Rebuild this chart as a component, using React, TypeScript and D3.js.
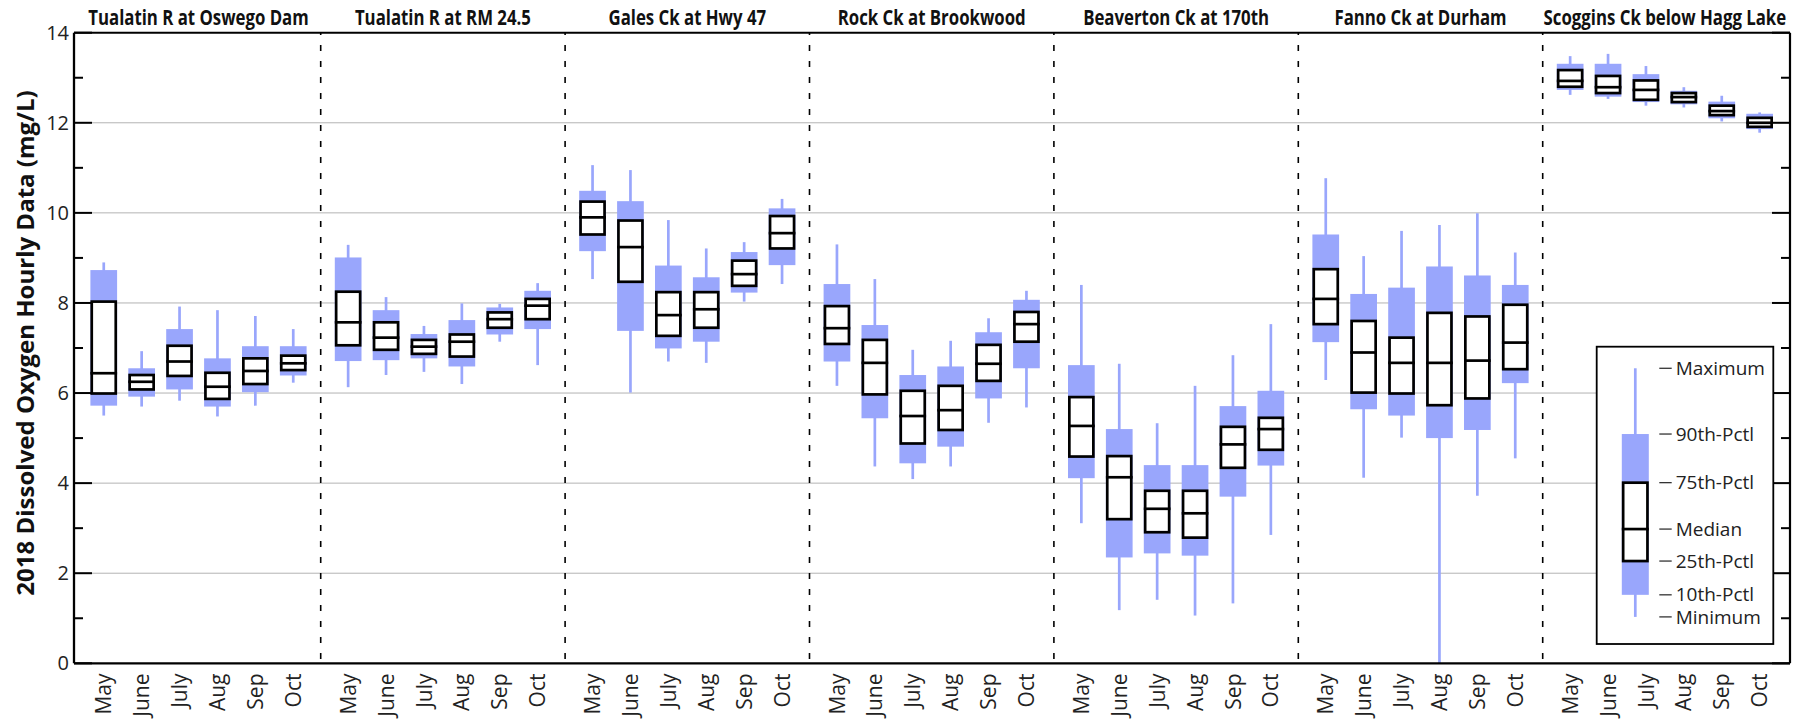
import React from "react";
import * as d3 from "d3";

const sites = [
  "Tualatin R at Oswego Dam",
  "Tualatin R at RM 24.5",
  "Gales Ck at Hwy 47",
  "Rock Ck at Brookwood",
  "Beaverton Ck at 170th",
  "Fanno Ck at Durham",
  "Scoggins Ck below Hagg Lake",
];
const months = ["May", "June", "July", "Aug", "Sep", "Oct"];

// Each row: one site, values May..Oct
const minimum = [
  [5.5, 5.7, 5.83, 5.48, 5.72, 6.23],
  [6.13, 6.4, 6.47, 6.2, 7.14, 6.62],
  [8.53, 6.01, 6.7, 6.67, 8.03, 8.42],
  [6.16, 4.37, 4.09, 4.37, 5.34, 5.68],
  [3.11, 1.18, 1.41, 1.06, 1.33, 2.85],
  [6.29, 4.12, 5.01, 0.0, 3.72, 4.55],
  [12.62, 12.53, 12.38, 12.34, 12.03, 11.78],
];
const pct10 = [
  [5.72, 5.92, 6.08, 5.7, 6.02, 6.39],
  [6.71, 6.73, 6.77, 6.59, 7.3, 7.42],
  [9.15, 7.38, 6.99, 7.14, 8.23, 8.84],
  [6.7, 5.44, 4.44, 4.81, 5.88, 6.55],
  [4.11, 2.35, 2.44, 2.39, 3.7, 4.39],
  [7.13, 5.64, 5.5, 5.0, 5.18, 6.22],
  [12.73, 12.58, 12.46, 12.41, 12.1, 11.86],
];
const pct25 = [
  [5.99, 6.08, 6.38, 5.87, 6.2, 6.51],
  [7.06, 6.96, 6.87, 6.81, 7.45, 7.64],
  [9.52, 8.47, 7.27, 7.45, 8.38, 9.21],
  [7.09, 5.97, 4.88, 5.18, 6.27, 7.14],
  [4.59, 3.2, 2.91, 2.79, 4.34, 4.74],
  [7.53, 6.01, 5.99, 5.73, 5.88, 6.53],
  [12.8, 12.66, 12.51, 12.46, 12.17, 11.91],
];
const median = [
  [6.44, 6.25, 6.7, 6.14, 6.49, 6.66],
  [7.57, 7.23, 7.03, 7.14, 7.64, 7.94],
  [9.9, 9.24, 7.73, 7.86, 8.64, 9.55],
  [7.44, 6.67, 5.49, 5.62, 6.65, 7.53],
  [5.27, 4.13, 3.43, 3.33, 4.86, 5.2],
  [8.09, 6.9, 6.67, 6.67, 6.72, 7.12],
  [12.93, 12.79, 12.73, 12.57, 12.26, 12.0],
];
const pct75 = [
  [8.03, 6.4, 7.05, 6.45, 6.77, 6.83],
  [8.25, 7.57, 7.18, 7.3, 7.79, 8.09],
  [10.25, 9.83, 8.24, 8.24, 8.94, 9.93],
  [7.93, 7.18, 6.05, 6.16, 7.07, 7.8],
  [5.91, 4.6, 3.83, 3.83, 5.25, 5.45],
  [8.75, 7.6, 7.23, 7.78, 7.7, 7.96],
  [13.17, 13.04, 12.94, 12.66, 12.38, 12.11],
];
const pct90 = [
  [8.73, 6.55, 7.42, 6.77, 7.04, 7.04],
  [9.01, 7.84, 7.31, 7.62, 7.9, 8.27],
  [10.49, 10.26, 8.83, 8.57, 9.13, 10.1],
  [8.42, 7.51, 6.4, 6.59, 7.35, 8.07],
  [6.62, 5.2, 4.4, 4.4, 5.71, 6.05],
  [9.52, 8.2, 8.34, 8.81, 8.61, 8.4],
  [13.31, 13.31, 13.08, 12.71, 12.47, 12.2],
];
const maximum = [
  [8.9, 6.93, 7.92, 7.84, 7.71, 7.42],
  [9.29, 8.13, 7.49, 7.99, 7.98, 8.44],
  [11.06, 10.95, 9.84, 9.21, 9.35, 10.31],
  [9.3, 8.53, 6.96, 7.16, 7.66, 8.27],
  [8.4, 6.65, 5.33, 6.16, 6.84, 7.53],
  [10.77, 9.04, 9.6, 9.73, 9.99, 9.12],
  [13.48, 13.53, 13.26, 12.79, 12.6, 12.23],
];

const yTicks = [0, 2, 4, 6, 8, 10, 12, 14];
const yMinorTicks = [1, 3, 5, 7, 9, 11, 13];
const gridValues = [2, 4, 6, 8, 10, 12];
const yTitle = "2018 Dissolved Oxygen Hourly Data (mg/L)";

const legendLabels = ["Minimum", "10th-Pctl", "25th-Pctl", "Median", "75th-Pctl", "90th-Pctl", "Maximum"];
const legendValues = [1.03, 1.52, 2.27, 2.98, 4.01, 5.09, 6.55];

const BLUE = "#99a6fc";
const FONT = "'Open Sans', 'Noto Sans', sans-serif";

export default function App() {
  const W = 1807;
  const H = 720;
  const axisLeft = 74;
  const axisRight = 1790;
  const top = 32.7;
  const bottom = 663.3;

  const y = d3.scaleLinear().domain([0, 14]).range([bottom, top]);
  const panel = d3.scaleBand<string>().domain(sites).range([76.3, 1787.1]).padding(0);
  const pw = panel.bandwidth();
  const month = d3.scalePoint<string>().domain(months).range([27.45, pw - 27.45]);

  const boxW = 26.7;
  const sw = 2.7;

  const boxes: any[] = [];
  sites.forEach((s, si) => {
    months.forEach((m, mi) => {
      boxes.push({
        key: s + m,
        cx: (panel(s) as number) + (month(m) as number),
        min: minimum[si][mi],
        p10: pct10[si][mi],
        p25: pct25[si][mi],
        med: median[si][mi],
        p75: pct75[si][mi],
        p90: pct90[si][mi],
        max: maximum[si][mi],
      });
    });
  });

  const separators = sites.slice(1).map((s) => panel(s) as number);

  // legend
  const lgX = 1596.7, lgY = 346.7, lgW = 176.6, lgH = 297.3;
  const lgCx = 1635.3;
  const lv = legendValues;

  return (
    <svg width={W} height={H} style={{ display: "block", position: "absolute", left: 0, top: 0 }} fontFamily={FONT}>
      <rect x={0} y={0} width={W} height={H} fill="#fff" />
      {/* gridlines */}
      {gridValues.map((v) => (
        <line key={"g" + v} x1={axisLeft} x2={axisRight} y1={y(v)} y2={y(v)} stroke="#b3b3b3" strokeWidth={1} />
      ))}
      {/* separators */}
      {separators.map((x, i) => (
        <line key={"s" + i} x1={x} x2={x} y1={top} y2={bottom} stroke="#000" strokeWidth={1.6}
          strokeDasharray="6,10" strokeDashoffset={3.7} />
      ))}
      {/* boxes */}
      {boxes.map((b) => (
        <g key={b.key}>
          <line x1={b.cx} x2={b.cx} y1={y(b.min)} y2={y(b.max)} stroke={BLUE} strokeWidth={2.7} />
          <rect x={b.cx - boxW / 2} width={boxW} y={y(b.p90)} height={y(b.p10) - y(b.p90)} fill={BLUE} />
          <rect x={b.cx - boxW / 2 + sw / 2} width={boxW - sw} y={y(b.p75)} height={y(b.p25) - y(b.p75)}
            fill="#fff" stroke="#000" strokeWidth={sw} />
          <line x1={b.cx - boxW / 2} x2={b.cx + boxW / 2} y1={y(b.med)} y2={y(b.med)} stroke="#000" strokeWidth={sw} />
        </g>
      ))}
      {/* ticks */}
      {yTicks.map((v) => (
        <g key={"t" + v}>
          <line x1={axisLeft} x2={axisLeft + 18} y1={y(v)} y2={y(v)} stroke="#000" strokeWidth={2} />
          <line x1={axisRight - 18} x2={axisRight} y1={y(v)} y2={y(v)} stroke="#000" strokeWidth={2} />
          <text x={axisLeft - 5} y={y(v)} dy="0.35em" textAnchor="end" fontSize={20} fill="#222">{v}</text>
        </g>
      ))}
      {yMinorTicks.map((v) => (
        <g key={"mt" + v}>
          <line x1={axisLeft} x2={axisLeft + 9} y1={y(v)} y2={y(v)} stroke="#000" strokeWidth={2} />
          <line x1={axisRight - 9} x2={axisRight} y1={y(v)} y2={y(v)} stroke="#000" strokeWidth={2} />
        </g>
      ))}
      {/* frame */}
      <line x1={axisLeft} x2={axisRight} y1={top} y2={top} stroke="#000" strokeWidth={2} />
      <line x1={axisLeft} x2={axisRight} y1={bottom} y2={bottom} stroke="#000" strokeWidth={2.2} />
      <line x1={axisLeft} x2={axisLeft} y1={top} y2={bottom} stroke="#000" strokeWidth={2.3} />
      <line x1={axisRight} x2={axisRight} y1={top} y2={bottom} stroke="#000" strokeWidth={2.2} />
      {/* month labels */}
      {boxes.map((b, i) => (
        <text key={"ml" + b.key} transform={`translate(${b.cx},673.5) rotate(-90)`} dy="0.36em"
          textAnchor="end" fontSize={21} fill="#222">{months[i % 6]}</text>
      ))}
      {/* site titles */}
      {sites.map((s) => (
        <text key={"st" + s} transform={`translate(${(panel(s) as number) + pw / 2},25) scale(0.8,1)`}
          textAnchor="middle" fontSize={21} fontWeight="bold" fill="#111">{s}</text>
      ))}
      {/* y title */}
      <text transform={`translate(33.5,${(top + bottom) / 2 - 5}) rotate(-90)`} textAnchor="middle"
        fontSize={24} fontWeight="bold" fill="#111">{yTitle}</text>
      {/* legend */}
      <rect x={lgX} y={lgY} width={lgW} height={lgH} fill="#fff" stroke="#000" strokeWidth={1.8} />
      <line x1={lgCx} x2={lgCx} y1={y(lv[0])} y2={y(lv[6])} stroke={BLUE} strokeWidth={2.7} />
      <rect x={lgCx - 13.5} width={27} y={y(lv[5])} height={y(lv[1]) - y(lv[5])} fill={BLUE} />
      <rect x={lgCx - 13.5 + sw / 2} width={27 - sw} y={y(lv[4])} height={y(lv[2]) - y(lv[4])}
        fill="#fff" stroke="#000" strokeWidth={sw} />
      <line x1={lgCx - 13.5} x2={lgCx + 13.5} y1={y(lv[3])} y2={y(lv[3])} stroke="#000" strokeWidth={sw} />
      {legendLabels.map((l, i) => (
        <g key={"lg" + l}>
          <line x1={1659.3} x2={1671.7} y1={y(lv[i])} y2={y(lv[i])} stroke="#222" strokeWidth={1.2} />
          <text x={1675.7} y={y(lv[i])} dy="0.35em" fontSize={19} fill="#222">{l}</text>
        </g>
      ))}
    </svg>
  );
}
